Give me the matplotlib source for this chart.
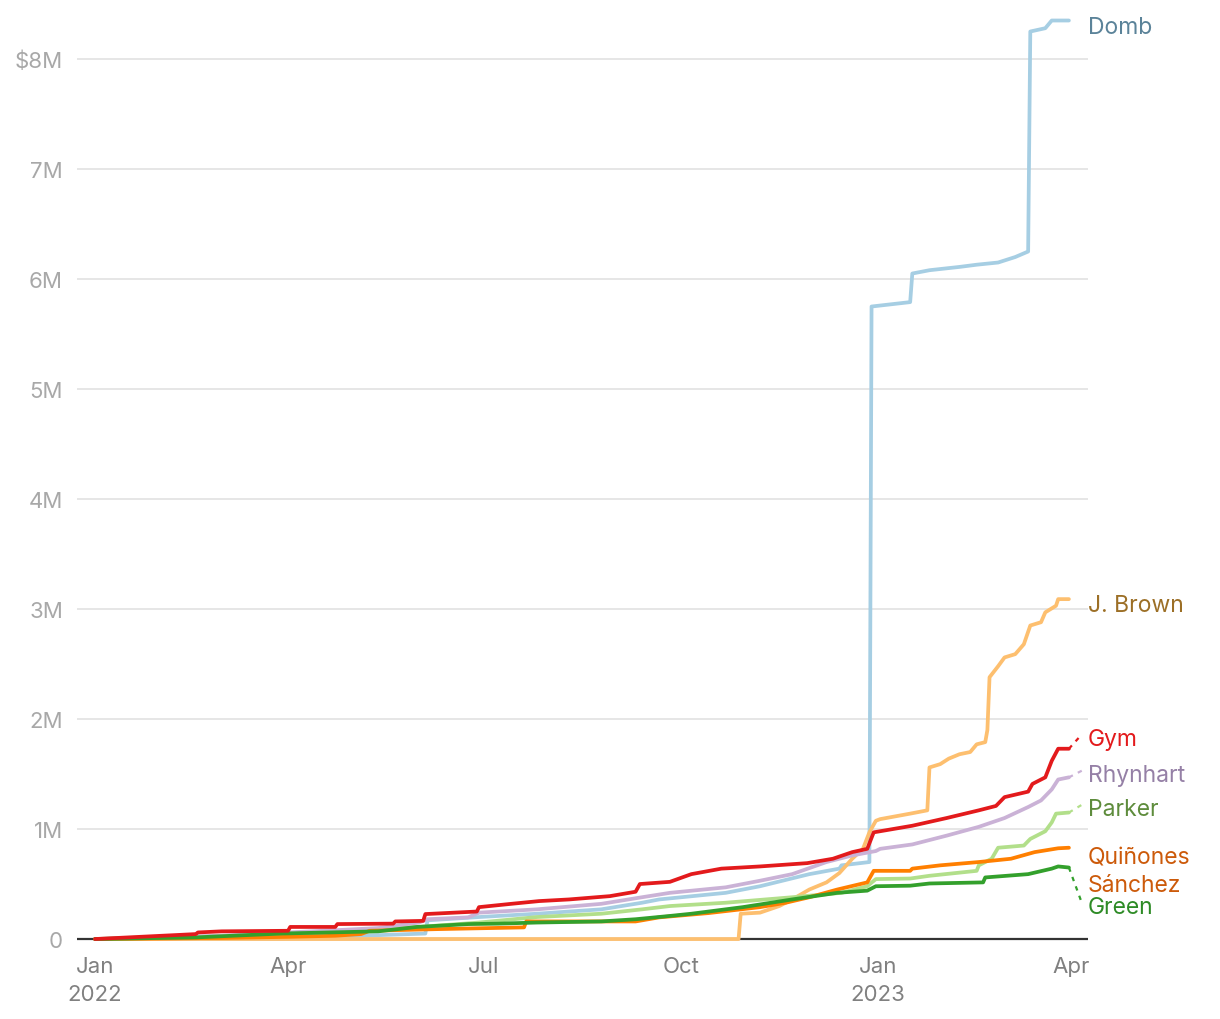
import matplotlib
matplotlib.use("Agg")
import matplotlib.pyplot as plt
import matplotlib.dates as mdates
import matplotlib.transforms as mtransforms
import pandas as pd

# ---------------- data (cumulative fundraising, $ millions) ----------------
domb_dates = ["2022-01-01", "2022-03-28", "2022-06-04", "2022-06-05", "2022-06-29", "2022-07-26",
              "2022-08-25", "2022-09-13", "2022-09-21", "2022-10-22", "2022-11-07", "2022-11-30",
              "2022-12-14", "2022-12-15", "2022-12-28", "2022-12-29", "2023-01-16", "2023-01-17",
              "2023-01-25", "2023-02-08", "2023-02-16", "2023-02-26", "2023-03-06", "2023-03-12",
              "2023-03-13", "2023-03-20", "2023-03-23", "2023-03-31"]
domb_vals = [0.0, 0.005, 0.05, 0.17, 0.20, 0.23,
             0.27, 0.33, 0.36, 0.42, 0.48, 0.59,
             0.64, 0.67, 0.70, 5.75, 5.79, 6.05,
             6.08, 6.11, 6.13, 6.15, 6.20, 6.25,
             8.25, 8.28, 8.35, 8.35]

brown_dates = ["2022-01-01", "2022-10-28", "2022-10-29", "2022-11-07", "2022-11-16", "2022-11-22",
               "2022-11-30", "2022-12-08", "2022-12-14", "2022-12-20", "2022-12-25", "2022-12-28",
               "2022-12-31", "2023-01-02", "2023-01-16", "2023-01-24", "2023-01-25", "2023-01-30",
               "2023-02-03", "2023-02-08", "2023-02-13", "2023-02-16", "2023-02-20", "2023-02-21",
               "2023-02-22", "2023-02-26", "2023-03-01", "2023-03-06", "2023-03-10", "2023-03-13",
               "2023-03-18", "2023-03-20", "2023-03-25", "2023-03-26", "2023-03-31"]
brown_vals = [0.0, 0.0, 0.23, 0.24, 0.30, 0.36,
              0.45, 0.515, 0.60, 0.73, 0.82, 0.97,
              1.075, 1.09, 1.14, 1.17, 1.56, 1.59,
              1.64, 1.68, 1.70, 1.77, 1.79, 1.90,
              2.38, 2.48, 2.56, 2.59, 2.68, 2.85,
              2.88, 2.97, 3.03, 3.09, 3.09]

gym_dates = ["2022-01-01", "2022-02-17", "2022-02-18", "2022-03-01", "2022-04-01", "2022-04-02",
             "2022-04-23", "2022-04-24", "2022-05-20", "2022-05-21", "2022-06-03", "2022-06-04",
             "2022-06-28", "2022-06-29", "2022-07-14", "2022-07-27", "2022-08-10", "2022-08-29",
             "2022-09-10", "2022-09-12", "2022-09-26", "2022-10-06", "2022-10-20", "2022-11-07",
             "2022-11-29", "2022-12-11", "2022-12-20", "2022-12-27", "2022-12-30", "2023-01-08",
             "2023-01-17", "2023-02-02", "2023-02-17", "2023-02-25", "2023-03-01", "2023-03-12",
             "2023-03-14", "2023-03-20", "2023-03-23", "2023-03-26", "2023-03-31"]
gym_vals = [0.0, 0.045, 0.06, 0.07, 0.075, 0.11,
            0.11, 0.136, 0.14, 0.16, 0.165, 0.227,
            0.25, 0.29, 0.32, 0.345, 0.36, 0.39,
            0.43, 0.50, 0.52, 0.59, 0.64, 0.66,
            0.69, 0.73, 0.79, 0.82, 0.97, 1.00,
            1.03, 1.10, 1.17, 1.21, 1.29, 1.34,
            1.41, 1.47, 1.62, 1.73, 1.73]

rhyn_dates = ["2022-01-01", "2022-03-01", "2022-04-01", "2022-04-23", "2022-05-13", "2022-06-01",
              "2022-06-05", "2022-06-24", "2022-06-29", "2022-07-26", "2022-08-25", "2022-09-13",
              "2022-09-26", "2022-10-22", "2022-11-07", "2022-11-22", "2022-12-08", "2022-12-20",
              "2022-12-31", "2023-01-02", "2023-01-17", "2023-02-02", "2023-02-17", "2023-03-01",
              "2023-03-12", "2023-03-18", "2023-03-23", "2023-03-26", "2023-03-31"]
rhyn_vals = [0.0, 0.03, 0.06, 0.08, 0.10, 0.15,
             0.18, 0.197, 0.24, 0.27, 0.32, 0.38,
             0.42, 0.47, 0.53, 0.59, 0.70, 0.76,
             0.80, 0.82, 0.86, 0.94, 1.02, 1.10,
             1.20, 1.26, 1.36, 1.45, 1.47]

parker_dates = ["2022-01-01", "2022-01-15", "2022-02-17", "2022-03-28", "2022-05-09", "2022-06-01",
                "2022-06-29", "2022-07-26", "2022-08-25", "2022-09-13", "2022-09-26", "2022-10-22",
                "2022-11-22", "2022-12-15", "2022-12-27", "2022-12-31", "2023-01-16", "2023-01-25",
                "2023-02-16", "2023-02-17", "2023-02-23", "2023-02-26", "2023-03-10", "2023-03-13",
                "2023-03-20", "2023-03-23", "2023-03-25", "2023-03-31"]
parker_vals = [0.0, 0.01, 0.02, 0.04, 0.08, 0.11,
               0.15, 0.20, 0.23, 0.27, 0.30, 0.33,
               0.38, 0.42, 0.48, 0.545, 0.55, 0.575,
               0.62, 0.67, 0.73, 0.83, 0.85, 0.91,
               0.98, 1.06, 1.14, 1.15]

quin_dates = ["2022-01-01", "2022-03-01", "2022-04-01", "2022-04-23", "2022-05-05", "2022-05-09",
              "2022-06-09", "2022-07-20", "2022-07-21", "2022-09-10", "2022-09-13", "2022-09-21",
              "2022-10-14", "2022-11-07", "2022-11-19", "2022-11-30", "2022-12-13", "2022-12-27",
              "2022-12-30", "2023-01-16", "2023-01-17", "2023-01-30", "2023-02-17", "2023-03-04",
              "2023-03-15", "2023-03-26", "2023-03-31"]
quin_vals = [0.0, 0.01, 0.02, 0.03, 0.045, 0.075,
             0.09, 0.106, 0.16, 0.16, 0.17, 0.197,
             0.236, 0.29, 0.33, 0.38, 0.45, 0.515,
             0.62, 0.62, 0.64, 0.67, 0.70, 0.73,
             0.79, 0.825, 0.83]

green_dates = ["2022-01-01", "2022-02-17", "2022-03-29", "2022-05-13", "2022-05-31", "2022-06-24",
               "2022-07-08", "2022-07-26", "2022-08-25", "2022-09-10", "2022-09-26", "2022-10-06",
               "2022-10-30", "2022-11-22", "2022-12-13", "2022-12-27", "2022-12-31", "2023-01-16",
               "2023-01-25", "2023-02-19", "2023-02-20", "2023-03-12", "2023-03-23", "2023-03-26",
               "2023-03-31"]
green_vals = [0.0, 0.015, 0.05, 0.07, 0.11, 0.136,
              0.14, 0.15, 0.16, 0.18, 0.21, 0.23,
              0.29, 0.36, 0.42, 0.44, 0.48, 0.485,
              0.505, 0.515, 0.56, 0.59, 0.64, 0.66,
              0.65]

# projected continuation (dotted) after the last report
proj_date = "2023-04-06"
proj_vals = {"Gym": 1.86, "Rhynhart": 1.53, "Parker": 1.22, "Green": 0.33}

names = ["Domb", "J. Brown", "Parker", "Rhynhart", "Quiñones Sánchez", "Green", "Gym"]
series = {
    "Domb": (domb_dates, domb_vals),
    "J. Brown": (brown_dates, brown_vals),
    "Gym": (gym_dates, gym_vals),
    "Rhynhart": (rhyn_dates, rhyn_vals),
    "Parker": (parker_dates, parker_vals),
    "Quiñones Sánchez": (quin_dates, quin_vals),
    "Green": (green_dates, green_vals),
}

y_ticks = [0, 1, 2, 3, 4, 5, 6, 7, 8]
y_tick_labels = ["0", "1M", "2M", "3M", "4M", "5M", "6M", "7M", "$8M"]
x_ticks = ["2022-01-01", "2022-04-01", "2022-07-01", "2022-10-01", "2023-01-01", "2023-04-01"]
x_tick_labels = ["Jan\n2022", "Apr", "Jul", "Oct", "Jan\n2023", "Apr"]

# ---------------- style ----------------
line_colors = {
    "Domb": "#a6cee3", "J. Brown": "#fdbf6f", "Gym": "#e31a1c", "Rhynhart": "#cab2d6",
    "Parker": "#b2df8a", "Quiñones Sánchez": "#ff7f00", "Green": "#33a02c",
}
label_colors = {
    "Domb": "#5b8399", "J. Brown": "#9c6f26", "Gym": "#e31a1c", "Rhynhart": "#9580a6",
    "Parker": "#5e8c3c", "Quiñones Sánchez": "#cc5a0a", "Green": "#2e8b26",
}
label_text = {"Quiñones Sánchez": "Quiñones\nSánchez"}
label_y = {"Domb": 8.295, "J. Brown": 3.035, "Gym": 1.815, "Rhynhart": 1.495,
           "Parker": 1.185, "Quiñones Sánchez": 0.615, "Green": 0.29}

plt.rcParams["font.family"] = ["Inter", "DejaVu Sans"]

fig = plt.figure(figsize=(12.2, 10.2), dpi=100)
ax = fig.add_axes([0.0631, 0.0730, 0.8287, 0.9167])

base = pd.Timestamp("2022-01-01")
ax.set_xlim(mdates.date2num(base - pd.Timedelta(days=8.4)),
            mdates.date2num(base + pd.Timedelta(days=462.9)))
ax.set_ylim(-0.05, 8.45)

for t in y_ticks[1:]:
    ax.axhline(t, color="#e4e4e4", lw=1.3, zorder=0)
ax.axhline(0, color="#333333", lw=1.6, zorder=1)

for i, name in enumerate(names):
    d, v = series[name]
    ax.plot(pd.to_datetime(d), v, color=line_colors[name], lw=2.7,
            solid_joinstyle="round", solid_capstyle="round", zorder=2 + i)
    if name in proj_vals:
        ax.plot(pd.to_datetime([d[-1], proj_date]), [v[-1], proj_vals[name]],
                color=line_colors[name], lw=1.6, ls=(0, (2, 2.5)), zorder=2 + i)

trans = mtransforms.blended_transform_factory(ax.transAxes, ax.transData)
for name in names:
    ax.text(1.0, label_y[name], label_text.get(name, name), transform=trans,
            color=label_colors[name], fontsize=16.5, ha="left", va="center",
            linespacing=1.3)

ax.set_yticks(y_ticks)
ax.set_yticklabels(y_tick_labels)
ax.set_xticks(pd.to_datetime(x_ticks))
ax.set_xticklabels(x_tick_labels, linespacing=1.55)
ax.tick_params(axis="y", length=0, pad=10, labelsize=16, labelcolor="#a8a8a8")
ax.tick_params(axis="x", length=0, pad=8, labelsize=16, labelcolor="#808080")
for lab in ax.get_xticklabels():
    lab.set_ha("center")
    lab.set_va("top")

for s in ax.spines.values():
    s.set_visible(False)

fig.savefig("out.png", dpi=100, facecolor="white")
